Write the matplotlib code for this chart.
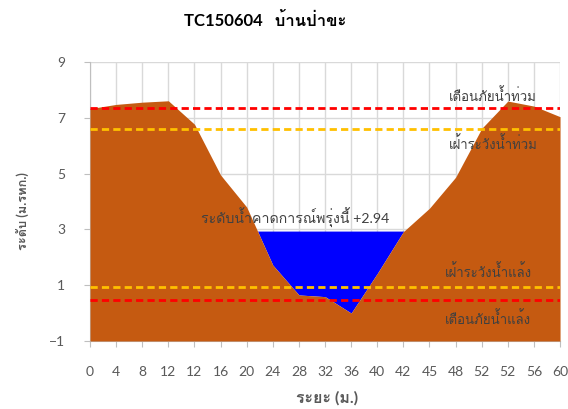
import matplotlib
matplotlib.use("Agg")
import matplotlib.pyplot as plt
import numpy as np

plt.rcParams['font.family'] = ['Lato', 'Loma', 'Noto Sans Thai Looped', 'DejaVu Sans']

title = "TC150604   บ้านป่าขะ"
distance_labels = ["0", "4", "8", "12", "12", "16", "20", "24", "28", "32", "36",
                   "40", "42", "45", "48", "52", "52", "56", "60"]
ground = [7.33, 7.48, 7.56, 7.61, 6.77, 4.95, 3.8, 1.72, 0.65, 0.59, 0.0,
          1.42, 2.92, 3.76, 4.87, 6.62, 7.6, 7.42, 7.04]
water_level = 2.94
flood_warning = 7.34
flood_watch = 6.6
drought_watch = 0.95
drought_warning = 0.47

x = np.arange(len(distance_labels))
g = np.array(ground)

fig = plt.figure(figsize=(5.68, 4.09), dpi=100)
ax = fig.add_axes([0.1585, 0.1663, 0.986 - 0.1585, 0.8484 - 0.1663])

ax.fill_between(x, g, water_level, where=g <= water_level + 0.05, interpolate=True,
                color='#0000FF', lw=0, zorder=2)
ax.fill_between(x, -1, g, color='#C55A11', lw=0, zorder=3)

for val, col in [(flood_warning, '#FF0000'), (flood_watch, '#FFC000'),
                 (drought_watch, '#FFC000'), (drought_warning, '#FF0000')]:
    ax.plot([x[0], x[-1]], [val, val], color=col, lw=2.0, ls=(0, (2.6, 1.5)), zorder=4)

ax.set_xlim(0, len(x) - 1)
ax.set_ylim(-1, 9)
ax.set_yticks(np.arange(-1, 10, 2))
ax.set_xticks(x)
ax.set_xticklabels(distance_labels)
ax.grid(True, color='#D9D9D9', lw=1, zorder=0)
ax.set_axisbelow(True)
for s in ['top', 'right']:
    ax.spines[s].set_visible(False)
for s in ['left', 'bottom']:
    ax.spines[s].set_color('#BFBFBF')
ax.tick_params(axis='both', colors='#BFBFBF', labelcolor='#595959', labelsize=10,
               length=4, direction='out')
ax.tick_params(axis='x', pad=14)
ax.tick_params(axis='y', pad=14)

tc = '#404040'
ax.text(15.44, 7.82, "เตือนภัยน้ำท่วม", ha='center', va='center', fontsize=9.5, color=tc, zorder=5)
ax.text(15.44, 6.1, "เฝ้าระวังน้ำท่วม", ha='center', va='center', fontsize=9.5, color=tc, zorder=5)
ax.text(15.25, 1.51, "เฝ้าระวังน้ำแล้ง", ha='center', va='center', fontsize=9.5, color=tc, zorder=5)
ax.text(15.25, -0.18, "เตือนภัยน้ำแล้ง", ha='center', va='center', fontsize=9.5, color=tc, zorder=5)
ax.text(7.85, 3.4, "ระดับน้ำคาดการณ์พรุ่งนี้ +%.2f" % water_level, ha='center', va='center',
        fontsize=10.2, color=tc, zorder=5)

fig.text(265 / 568, 1 - 21 / 409, title, ha='center', va='center', fontsize=12,
         fontweight='bold', color='#000000')
fig.text(327 / 568, 1 - 398 / 409, "ระยะ (ม.)", ha='center', va='center', fontsize=11.5,
         fontweight='bold', color='#595959')
fig.text(22 / 568, 1 - 211 / 409, "ระดับ (ม.รทก.)", ha='center', va='center', fontsize=9.2,
         fontweight='bold', color='#595959', rotation=90)

fig.savefig("out.png", dpi=100)
